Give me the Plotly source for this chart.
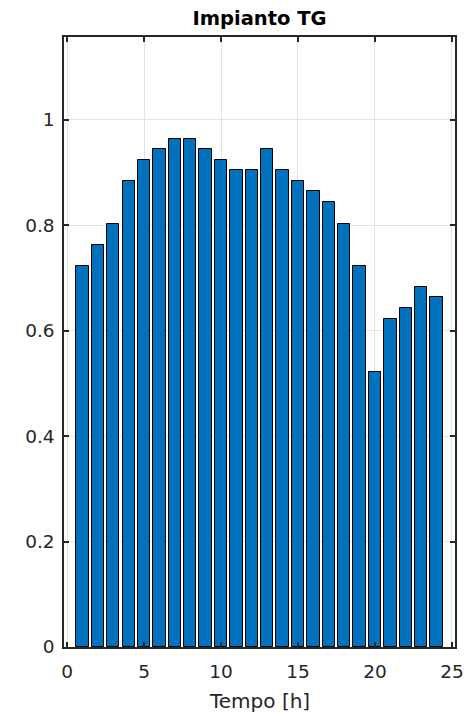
import plotly.graph_objects as go

hours = list(range(1, 25))
values = [0.723, 0.763, 0.803, 0.883, 0.924, 0.944, 0.964, 0.964, 0.944, 0.924,
          0.904, 0.904, 0.944, 0.904, 0.884, 0.864, 0.844, 0.803, 0.723, 0.522,
          0.622, 0.643, 0.683, 0.663]
x_ticks = [0, 5, 10, 15, 20, 25]
y_ticks = [0, 0.2, 0.4, 0.6, 0.8, 1]
y_tick_text = ["0", "0.2", "0.4", "0.6", "0.8", "1"]
x_label = "Tempo [h]"
title_text = "Impianto TG"

FONT = "DejaVu Sans, Liberation Sans, Arial"

fig = go.Figure(go.Bar(
    x=hours, y=values, width=0.8,
    marker=dict(color="#0072BD", line=dict(color="black", width=1)),
))

axis_common = dict(
    showline=True, linecolor="#262626", linewidth=1.5, mirror="allticks",
    ticks="inside", ticklen=5, tickcolor="#262626", tickwidth=1.5,
    showgrid=True, gridcolor="#e3e3e3", gridwidth=1, zeroline=False,
    tickfont=dict(family=FONT, size=18.5, color="#262626"),
    automargin=False,
)

H = 708
# page body has an 8px margin, so the figure is sized/offset to compensate
fig.update_layout(
    width=456, height=H,
    margin=dict(l=56, r=9, t=29, b=69),
    paper_bgcolor="white", plot_bgcolor="white",
    showlegend=False,
    title=dict(text=f"<b>{title_text}</b>", xref="paper", x=0.5, xanchor="center",
               yref="container", y=1 - 10 / H, yanchor="middle",
               font=dict(family=FONT, size=19.5, color="black")),
    xaxis=dict(range=[-0.2, 25.2], tickvals=x_ticks, ticklabelstandoff=7,
               **axis_common),
    yaxis=dict(range=[0, 1.157], tickvals=y_ticks, ticktext=y_tick_text,
               ticklabelstandoff=4, **axis_common),
    bargap=0,
    annotations=[dict(text=x_label, xref="paper", yref="paper", x=0.5, y=0,
                      xanchor="center", yanchor="middle", yshift=-54,
                      showarrow=False,
                      font=dict(family=FONT, size=20, color="#262626"))],
)

fig.write_html("out.html")
